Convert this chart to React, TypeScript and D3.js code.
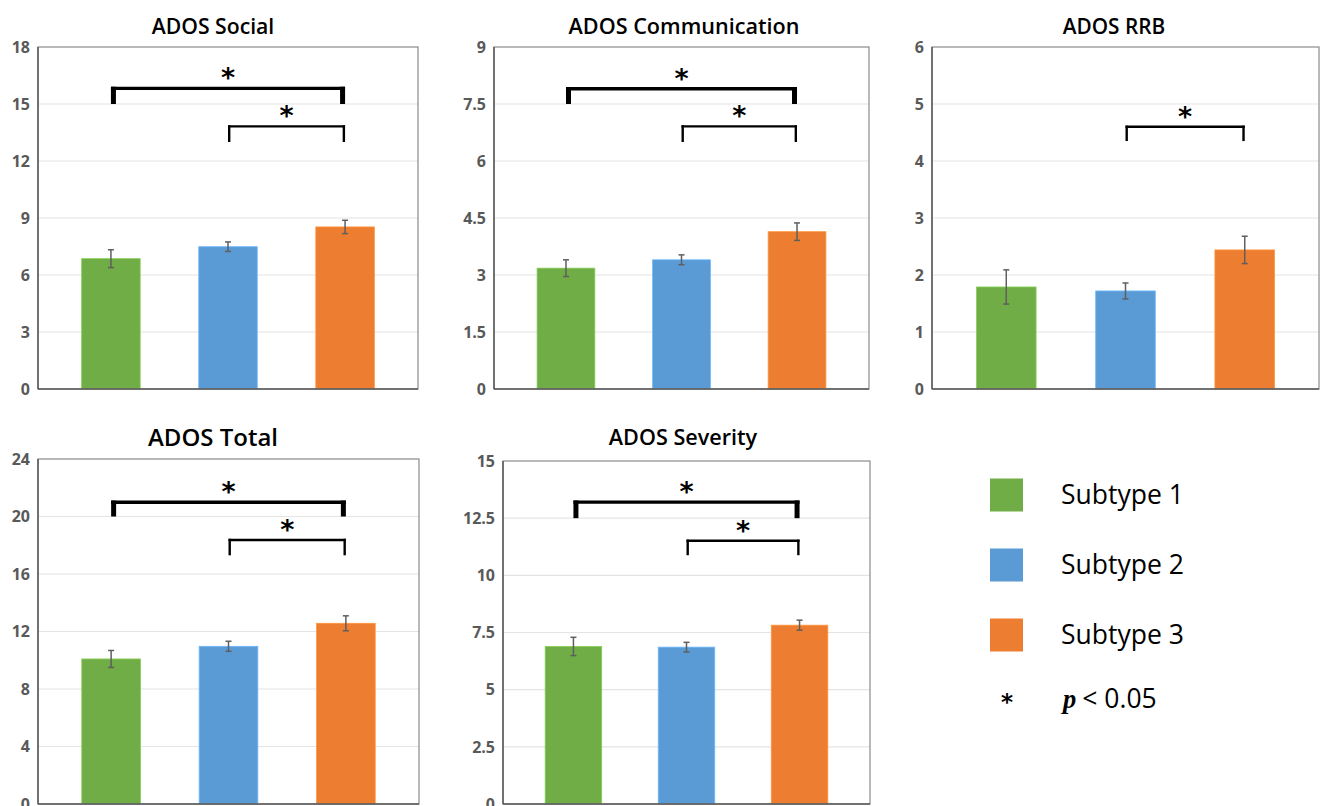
import React from "react";
import * as d3 from "d3";

// group labels and colours
const subtypes = ["Subtype 1", "Subtype 2", "Subtype 3"];
const subtypeColors = ["#70AD47", "#5B9BD5", "#ED7D31"];

// means and standard errors
const socialMeans = [6.86, 7.49, 8.53];
const socialErr = [0.47, 0.25, 0.35];
const commMeans = [3.18, 3.4, 4.14];
const commErr = [0.22, 0.13, 0.23];
const rrbMeans = [1.79, 1.72, 2.44];
const rrbErr = [0.3, 0.14, 0.24];
const totalMeans = [10.09, 10.97, 12.57];
const totalErr = [0.59, 0.35, 0.52];
const severityMeans = [6.89, 6.86, 7.82];
const severityErr = [0.4, 0.21, 0.22];

// y tick labels
const socialTicks = [0, 3, 6, 9, 12, 15, 18];
const commTicks = [0, 1.5, 3, 4.5, 6, 7.5, 9];
const rrbTicks = [0, 1, 2, 3, 4, 5, 6];
const totalTicks = [0, 4, 8, 12, 16, 20, 24];
const severityTicks = [0, 2.5, 5, 7.5, 10, 12.5, 15];

// significance brackets: [from, to, top, leg end]
const socialSig = [[0, 2, 15.82, 15.0], [1, 2, 13.82, 13.0]];
const commSig = [[0, 2, 7.9, 7.5], [1, 2, 6.91, 6.5]];
const rrbSig = [[1, 2, 4.6, 4.35]];
const totalSig = [[0, 2, 20.99, 20.0], [1, 2, 18.37, 17.3]];
const severitySig = [[0, 2, 13.2, 12.5], [1, 2, 11.51, 10.88]];

const panels = [
  { title: "ADOS Social", means: socialMeans, err: socialErr, ticks: socialTicks, sig: socialSig,
    box: [38, 418, 47, 389], titleX: 213, titleY: 34, titleSize: 21.2 },
  { title: "ADOS Communication", means: commMeans, err: commErr, ticks: commTicks, sig: commSig,
    box: [494, 869, 47, 389], titleX: 684, titleY: 34, titleSize: 21.6 },
  { title: "ADOS RRB", means: rrbMeans, err: rrbErr, ticks: rrbTicks, sig: rrbSig,
    box: [932, 1319, 47, 389], titleX: 1114, titleY: 34, titleSize: 20.8 },
  { title: "ADOS Total", means: totalMeans, err: totalErr, ticks: totalTicks, sig: totalSig,
    box: [38, 419, 459, 804], titleX: 213, titleY: 446, titleSize: 24 },
  { title: "ADOS Severity", means: severityMeans, err: severityErr, ticks: severityTicks, sig: severitySig,
    box: [503, 870, 461, 804], titleX: 683, titleY: 445, titleSize: 21.6 },
];

const font = "'Open Sans', 'Noto Sans', sans-serif";

const Panel = ({ p }) => {
  const [x0, x1, y0, y1] = p.box;
  const x = d3.scaleBand().domain(subtypes).range([x0, x1]).paddingInner(0.5).paddingOuter(0.373);
  const y = d3.scaleLinear().domain([0, d3.max(p.ticks)]).range([y1, y0]);
  const cx = (i) => x(subtypes[i]) + x.bandwidth() / 2;

  return (
    <g>
      <text x={p.titleX} y={p.titleY} textAnchor="middle" fontFamily={font} fontWeight={600}
        fontSize={p.titleSize} fill="#000">{p.title}</text>

      {p.ticks.map((t) => (
        <g key={t}>
          {t > 0 && t < d3.max(p.ticks) && (
            <line x1={x0} x2={x1} y1={y(t)} y2={y(t)} stroke="#e4e4e4" strokeWidth={1.2} />
          )}
          <text x={x0 - 8} y={y(t)} dy="0.36em" textAnchor="end" fontFamily={font}
            fontWeight="bold" fontSize={16} fill="#595959">{t}</text>
        </g>
      ))}

      {p.means.map((m, i) => (
        <rect key={i} x={x(subtypes[i])} width={x.bandwidth()} y={y(m)} height={y(0) - y(m)}
          fill={subtypeColors[i]} stroke={d3.color(subtypeColors[i]).brighter(0.5)} strokeWidth={0.8} />
      ))}

      {p.means.map((m, i) => {
        const hi = y(m + p.err[i]);
        const lo = y(m - p.err[i]);
        const c = cx(i);
        return (
          <g key={i} stroke="#5f5f5f" strokeWidth={1.5}>
            <line x1={c} x2={c} y1={hi} y2={lo} />
            <line x1={c - 3} x2={c + 3} y1={hi} y2={hi} />
            <line x1={c - 3} x2={c + 3} y1={lo} y2={lo} />
          </g>
        );
      })}

      <rect x={x0} y={y0} width={x1 - x0} height={y1 - y0} fill="none" stroke="#8a8a8a" strokeWidth={1.2} />
      <line x1={x0} x2={x0} y1={y0} y2={y1} stroke="#5a5a5a" strokeWidth={1.5} />
      <line x1={x0} x2={x1} y1={y1} y2={y1} stroke="#5a5a5a" strokeWidth={1.5} />

      {p.sig.map(([a, b, top, leg], k) => {
        const wide = b - a > 1;
        const hw = wide ? 3.4 : 2.4;
        const lw = wide ? 5 : 2.4;
        const xa = cx(a);
        const xb = cx(b);
        const yt = y(top);
        const yl = y(leg);
        return (
          <g key={k}>
            <line x1={xa} x2={xb} y1={yt} y2={yt} stroke="#000" strokeWidth={hw} />
            <line x1={xa + lw / 2} x2={xa + lw / 2} y1={yt - hw / 2} y2={yl} stroke="#000" strokeWidth={lw} />
            <line x1={xb - lw / 2} x2={xb - lw / 2} y1={yt - hw / 2} y2={yl} stroke="#000" strokeWidth={lw} />
            <text x={(xa + xb) / 2} y={yt - 20} dy="0.7em" textAnchor="middle"
              fontFamily="'DejaVu Sans', sans-serif" fontWeight="bold" fontSize={27}>*</text>
          </g>
        );
      })}
    </g>
  );
};

export default function App() {
  const legendY = d3.scalePoint().domain(subtypes).range([495, 635]);
  return (
    <svg width={1320} height={806} style={{ position: "absolute", left: 0, top: 0, background: "#fff" }}>
      {panels.map((p) => <Panel key={p.title} p={p} />)}

      {subtypes.map((s, i) => (
        <g key={s}>
          <rect x={990} y={legendY(s) - 16.5} width={33} height={33} fill={subtypeColors[i]} />
          <text x={1061} y={legendY(s) + 9} fontFamily={font} fontWeight={500} fontSize={26.5} fill="#000">{s}</text>
        </g>
      ))}
      <text x={1007} y={694} dy="0.7em" textAnchor="middle" fontFamily="'DejaVu Sans', sans-serif"
        fontWeight="bold" fontSize={23}>*</text>
      <text x={1063} y={708} fontSize={26.5} fill="#000">
        <tspan fontFamily="'Liberation Serif', serif" fontStyle="italic" fontWeight="bold">p</tspan>
        <tspan fontFamily={font} fontWeight={500} dx={6}>&lt; 0.05</tspan>
      </text>
    </svg>
  );
}
